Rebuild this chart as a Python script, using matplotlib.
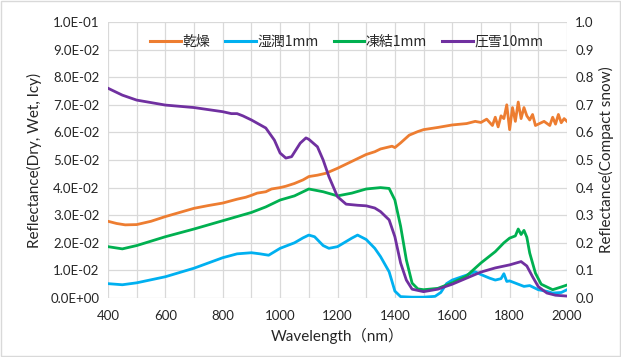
import matplotlib
matplotlib.use("Agg")
import matplotlib.pyplot as plt
from matplotlib.ticker import MultipleLocator, FuncFormatter
from matplotlib.lines import Line2D
from matplotlib.patches import Rectangle

# ---- data ----
dry_wl = [400, 430, 460, 500, 550, 600, 650, 700, 750, 800, 850, 880, 900, 920, 950, 970, 1000, 1020,
          1050, 1080, 1100, 1130, 1160, 1200, 1230, 1260, 1300, 1330, 1350, 1370, 1390, 1400, 1420,
          1450, 1480, 1500, 1550, 1600, 1650, 1680, 1700, 1720, 1740, 1750, 1760, 1770, 1780, 1790,
          1800, 1810, 1820, 1830, 1840, 1850, 1860, 1870, 1880, 1890, 1900, 1920, 1940, 1950, 1960,
          1970, 1980, 1990, 2000]
dry = [0.0278, 0.0270, 0.0265, 0.0266, 0.0278, 0.0295, 0.0310, 0.0325, 0.0335, 0.0344, 0.0358, 0.0365,
       0.0372, 0.0380, 0.0385, 0.0395, 0.0400, 0.0405, 0.0415, 0.0428, 0.0440, 0.0445, 0.0452, 0.0470,
       0.0485, 0.0500, 0.0520, 0.0530, 0.0540, 0.0545, 0.0550, 0.0545, 0.0562, 0.0590, 0.0603, 0.0610,
       0.0618, 0.0627, 0.0632, 0.0640, 0.0636, 0.0648, 0.0625, 0.0655, 0.0620, 0.0660, 0.0650, 0.0700,
       0.0610, 0.0690, 0.0640, 0.0710, 0.0650, 0.0690, 0.0660, 0.0645, 0.0665, 0.0625, 0.0630, 0.0640,
       0.0625, 0.0655, 0.0630, 0.0665, 0.0635, 0.0650, 0.0640]

wet_wl = [400, 450, 500, 600, 700, 800, 850, 900, 930, 960, 1000, 1050, 1080, 1100, 1120, 1150, 1170,
          1200, 1250, 1270, 1300, 1330, 1350, 1380, 1400, 1420, 1460, 1500, 1540, 1560, 1580, 1600,
          1650, 1680, 1700, 1730, 1750, 1770, 1780, 1790, 1800, 1830, 1850, 1870, 1900, 1930, 1950,
          1980, 2000]
wet = [0.0052, 0.0048, 0.0055, 0.0077, 0.0108, 0.0146, 0.0160, 0.0164, 0.0160, 0.0155, 0.0180, 0.0200,
       0.0218, 0.0228, 0.0222, 0.0190, 0.0180, 0.0186, 0.0217, 0.0228, 0.0212, 0.0180, 0.0150, 0.0095,
       0.0025, 0.0005, 0.0003, 0.0003, 0.0006, 0.0020, 0.0052, 0.0065, 0.0083, 0.0095, 0.0085, 0.0072,
       0.0065, 0.0070, 0.0088, 0.0060, 0.0062, 0.0050, 0.0042, 0.0045, 0.0030, 0.0024, 0.0018, 0.0020,
       0.0030]

icy_wl = [400, 450, 500, 600, 700, 800, 900, 950, 1000, 1050, 1080, 1100, 1150, 1200, 1250, 1300,
          1350, 1380, 1400, 1420, 1440, 1460, 1480, 1500, 1550, 1600, 1650, 1700, 1750, 1780, 1800,
          1820, 1830, 1840, 1850, 1860, 1870, 1890, 1910, 1950, 1980, 2000]
icy = [0.0186, 0.0178, 0.0190, 0.0222, 0.0250, 0.0280, 0.0310, 0.0330, 0.0355, 0.0370, 0.0385, 0.0395,
       0.0385, 0.0370, 0.0380, 0.0395, 0.0400, 0.0397, 0.0355, 0.0260, 0.0138, 0.0054, 0.0033, 0.0030,
       0.0035, 0.0055, 0.0080, 0.0127, 0.0168, 0.0200, 0.0217, 0.0225, 0.0250, 0.0230, 0.0245, 0.0220,
       0.0163, 0.0090, 0.0050, 0.0030, 0.0040, 0.0047]

snow_wl = [400, 450, 500, 600, 700, 800, 830, 850, 870, 900, 950, 980, 1000, 1020, 1040, 1070, 1090,
           1100, 1130, 1150, 1170, 1200, 1230, 1270, 1300, 1330, 1350, 1380, 1400, 1420, 1440, 1460,
           1500, 1550, 1600, 1650, 1700, 1750, 1800, 1840, 1860, 1880, 1900, 1930, 1960, 2000]
snow = [0.760, 0.735, 0.717, 0.699, 0.690, 0.675, 0.668, 0.668, 0.660, 0.645, 0.616, 0.572, 0.525, 0.507,
        0.512, 0.561, 0.580, 0.575, 0.548, 0.500, 0.440, 0.367, 0.340, 0.336, 0.334, 0.326, 0.313, 0.283,
        0.222, 0.127, 0.065, 0.032, 0.023, 0.032, 0.050, 0.072, 0.094, 0.109, 0.120, 0.132, 0.116, 0.077,
        0.041, 0.018, 0.010, 0.007]

labels = ["乾燥", "湿潤1mm", "凍結1mm", "圧雪10mm"]
colors = ["#ED7D31", "#00B0F0", "#00B050", "#7030A0"]

# ---- figure ----
LATIN = ["Lato", "Noto Sans CJK JP", "DejaVu Sans"]
plt.rcParams["font.family"] = LATIN
TXT = "#262626"

fig = plt.figure(figsize=(6.21, 3.57), dpi=100)
ax = fig.add_axes([108 / 621, 59 / 357, 459 / 621, 276 / 357])
ax2 = ax.twinx()

lw = 2.0
ax.plot(dry_wl, dry, color=colors[0], lw=lw)
ax.plot(wet_wl, wet, color=colors[1], lw=lw)
ax.plot(icy_wl, icy, color=colors[2], lw=lw)
ax2.plot(snow_wl, snow, color=colors[3], lw=lw)

ax.set_xlim(400, 2000)
ax.set_ylim(0, 0.1)
ax2.set_ylim(0, 1.0)
ax.xaxis.set_major_locator(MultipleLocator(200))
ax.xaxis.set_minor_locator(MultipleLocator(100))
ax.yaxis.set_major_locator(MultipleLocator(0.01))
ax2.yaxis.set_major_locator(MultipleLocator(0.1))
ax.yaxis.set_major_formatter(FuncFormatter(lambda v, p: "%.1E" % v))
ax2.yaxis.set_major_formatter(FuncFormatter(lambda v, p: "%.1f" % v))

ax.grid(True, which="both", axis="x", color="#D9D9D9", lw=0.9)
ax.grid(True, which="major", axis="y", color="#D9D9D9", lw=0.9)
ax.set_axisbelow(True)
for a in (ax, ax2):
    for s in a.spines.values():
        s.set_visible(False)
    a.tick_params(which="both", length=0, labelsize=9.5, colors=TXT)
ax.tick_params(axis="x", pad=9)
ax.tick_params(axis="y", pad=6)
ax2.tick_params(axis="y", pad=6)

ax.set_xlabel("Wavelength（nm）", fontsize=11, color=TXT, labelpad=4)
ax.set_ylabel("Reflectance(Dry, Wet, Icy)", fontsize=11, color=TXT, labelpad=6)
ax2.set_ylabel("Reflectance(Compact snow)", fontsize=11, color=TXT, labelpad=4)

handles = [Line2D([], [], color=c, lw=2.2) for c in colors]
leg = ax.legend(handles, labels, loc="upper center", bbox_to_anchor=(0.52, 1.0), ncol=4, frameon=False,
                prop={"family": ["Noto Sans CJK JP", "DejaVu Sans"], "size": 10},
                handlelength=2.2, handletextpad=0.1, columnspacing=1.1, labelcolor=TXT)

fig.patches.append(Rectangle((0.002, 0.003), 0.996, 0.994, transform=fig.transFigure,
                             fill=False, edgecolor="#D9D9D9", lw=1))

fig.savefig("out.png", dpi=100)
